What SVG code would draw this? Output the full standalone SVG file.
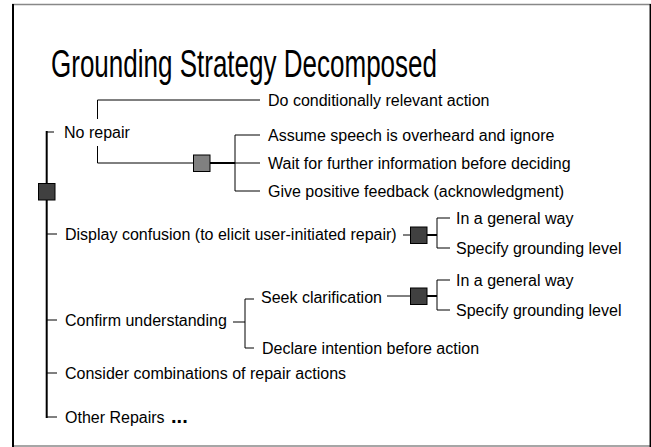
<svg xmlns="http://www.w3.org/2000/svg" width="651" height="447" viewBox="0 0 651 447">
<style>
text{font-family:"Liberation Sans",Arial,sans-serif;fill:#000}
.t{font-size:16px}
.ln{stroke:#000;stroke-width:1;fill:none}
.thk{stroke:#000;stroke-width:2;fill:none}
.dk{fill:#404040;stroke:#000;stroke-width:1}
.gy{fill:#808080;stroke:#000;stroke-width:1}
</style>
<rect width="651" height="447" fill="#fff"/>
<g id="frame">
<line x1="12" y1="4.5" x2="651" y2="4.5" stroke="#888" stroke-width="1.5"/>
<line x1="12" y1="446" x2="651" y2="446" stroke="#888" stroke-width="1.5"/>
<line x1="13" y1="4" x2="13" y2="447" stroke="#000" stroke-width="2"/>
<line x1="650.3" y1="4" x2="650.3" y2="447" stroke="#000" stroke-width="1.5"/>
</g>
<text id="title" x="51" y="77" font-size="39" textLength="386" lengthAdjust="spacingAndGlyphs">Grounding Strategy Decomposed</text>
<g id="connectors">
<line class="thk" x1="46.7" y1="131" x2="46.7" y2="418"/>
<polyline class="ln" points="54,132 46.7,132"/>
<line class="ln" x1="46.7" y1="234" x2="57" y2="234"/>
<line class="ln" x1="46.7" y1="320" x2="57" y2="320"/>
<line class="ln" x1="46.7" y1="373" x2="57" y2="373"/>
<line class="ln" x1="46.7" y1="417" x2="57" y2="417"/>
<polyline class="ln" points="97.5,119 97.5,100 260,100"/>
<polyline class="ln" points="97.5,146 97.5,163 193,163"/>
<line class="thk" x1="210" y1="163" x2="235" y2="163"/>
<polyline class="ln" points="260,135 235,135 235,191 260,191"/>
<line class="ln" x1="235" y1="163" x2="260" y2="163"/>
<line class="ln" x1="403" y1="235" x2="410" y2="235"/>
<line class="thk" x1="427" y1="235" x2="437" y2="235"/>
<polyline class="ln" points="450,218 437,218 437,248 450,248"/>
<line class="ln" x1="387" y1="296" x2="410" y2="296"/>
<line class="thk" x1="427" y1="296" x2="437" y2="296"/>
<polyline class="ln" points="450,280 437,280 437,310 450,310"/>
<line class="ln" x1="233" y1="322" x2="245" y2="322"/>
<polyline class="ln" points="254,299 245,299 245,348 254,348"/>
</g>
<g id="n-root"><rect class="dk" x="38.5" y="183.5" width="16.5" height="16.5"/></g>
<g id="n-norepair"><text class="t" x="64" y="138">No repair</text></g>
<g id="n-do"><text class="t" x="268" y="106">Do conditionally relevant action</text></g>
<g id="n-nr-sq"><rect class="gy" x="193.5" y="155" width="16.5" height="16.5"/></g>
<g id="n-assume"><text class="t" x="268" y="141">Assume speech is overheard and ignore</text></g>
<g id="n-wait"><text class="t" x="268" y="169">Wait for further information before deciding</text></g>
<g id="n-give"><text class="t" x="268" y="197">Give positive feedback (acknowledgment)</text></g>
<g id="n-display"><text class="t" x="65" y="240">Display confusion (to elicit user-initiated repair)</text></g>
<g id="n-d-sq"><rect class="dk" x="410.5" y="227" width="16.5" height="16.5"/></g>
<g id="n-d-gen"><text class="t" x="456" y="224">In a general way</text></g>
<g id="n-d-spec"><text class="t" x="456" y="254">Specify grounding level</text></g>
<g id="n-confirm"><text class="t" x="65" y="326">Confirm understanding</text></g>
<g id="n-seek"><text class="t" x="261" y="303">Seek clarification</text></g>
<g id="n-s-sq"><rect class="dk" x="410.5" y="288" width="16.5" height="16.5"/></g>
<g id="n-s-gen"><text class="t" x="456" y="286">In a general way</text></g>
<g id="n-s-spec"><text class="t" x="456" y="316">Specify grounding level</text></g>
<g id="n-declare"><text class="t" x="262" y="354">Declare intention before action</text></g>
<g id="n-consider"><text class="t" x="65" y="379">Consider combinations of repair actions</text></g>
<g id="n-other"><text class="t" x="65" y="423">Other Repairs <tspan font-size="20" font-weight="bold" dx="2">...</tspan></text></g>
</svg>
